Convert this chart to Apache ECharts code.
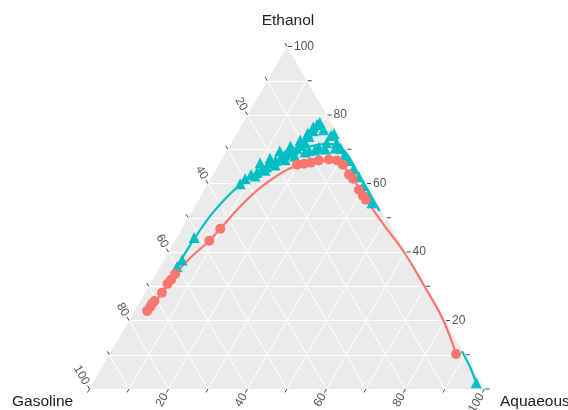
<!DOCTYPE html>
<html>
<head>
<meta charset="utf-8">
<script src="https://cdn.jsdelivr.net/npm/echarts@6/dist/echarts.min.js"></script>
<style>
  html, body { margin: 0; padding: 0; background: #fff; }
  #main { width: 568px; height: 410px; }
</style>
</head>
<body>
<div id="main"></div>
<script>
// compositions as [Gasoline, Ethanol, Aqueous] in %
var redPoints = [
  [74.0, 22.8, 3.2], [72.6, 24.0, 3.4], [71.7, 24.9, 3.4], [70.7, 25.7, 3.6],
  [67.6, 28.1, 4.3], [64.9, 30.7, 4.4], [63.4, 31.9, 4.7], [61.5, 33.6, 4.9],
  [48.0, 43.3, 8.7], [43.5, 46.8, 9.7],
  [14.7, 65.5, 19.8], [12.8, 65.8, 21.4], [10.9, 66.1, 23.0], [8.6, 66.7, 24.7],
  [5.9, 67.0, 27.1], [4.0, 66.7, 29.3], [3.1, 65.5, 31.4], [3.0, 62.6, 34.4],
  [2.6, 61.4, 36.0], [2.7, 58.2, 39.1], [2.6, 56.4, 41.0], [2.4, 55.3, 42.3],
  [2.1, 10.2, 87.7]
];
var redCurve = [
  [74.0, 22.8, 3.2], [67.6, 28.1, 4.3], [61.5, 33.6, 4.9], [54.9, 38.6, 6.5],
  [48.0, 43.3, 8.7], [43.5, 46.8, 9.7], [35.7, 52.9, 11.4], [28.7, 57.9, 13.4],
  [22.4, 61.7, 15.9], [17.3, 64.3, 18.4], [12.8, 65.8, 21.4], [7.4, 66.7, 25.9],
  [4.0, 65.8, 30.2], [2.7, 63.2, 34.1], [2.4, 57.3, 40.3], [1.6, 48.5, 49.9],
  [0.4, 40.0, 59.6], [0.2, 30.0, 69.8], [0.4, 20.0, 79.6], [2.1, 10.2, 87.7]
];
var tealPoints = [
  [60.0, 35.7, 4.3], [57.7, 37.7, 4.6], [51.4, 44.2, 4.4],
  [31.9, 59.9, 8.2], [29.9, 61.4, 8.7], [27.8, 62.6, 9.6], [26.0, 63.2, 10.8],
  [24.2, 64.3, 11.5], [22.7, 64.9, 12.4], [21.0, 66.1, 12.9], [19.5, 66.7, 13.8],
  [17.8, 67.5, 14.7], [16.3, 68.4, 15.3], [15.0, 69.0, 16.0], [13.7, 69.6, 16.7],
  [12.4, 70.2, 17.4], [11.0, 71.1, 17.9], [9.4, 72.2, 18.4], [7.6, 73.7, 18.7],
  [5.7, 75.4, 18.9], [3.8, 77.2, 19.0], [2.8, 77.8, 19.4], [2.9, 75.7, 21.4],
  [4.0, 71.9, 24.1], [6.7, 70.5, 22.8], [9.6, 69.6, 20.8], [1.9, 74.0, 24.1],
  [0.8, 74.6, 24.6], [1.5, 71.9, 26.6], [1.3, 70.2, 28.5], [1.2, 68.4, 30.4],
  [1.0, 66.7, 32.3], [1.0, 64.3, 34.7], [0.8, 62.0, 37.2], [0.9, 59.4, 39.7],
  [1.0, 56.7, 42.3], [1.3, 54.4, 44.3], [1.2, 1.8, 97.0],
  [27.0, 62.2, 10.8], [23.6, 63.9, 12.5], [20.3, 65.4, 14.3], [17.0, 66.9, 16.1],
  [14.0, 68.0, 18.0], [10.8, 69.2, 20.0], [8.0, 69.8, 22.2], [5.3, 70.1, 24.6],
  [2.6, 70.4, 27.0], [23.8, 66.0, 10.2], [20.6, 67.4, 12.0], [17.1, 69.5, 13.4],
  [13.7, 70.9, 15.4], [10.3, 72.7, 17.0], [7.4, 74.7, 17.9], [5.1, 76.5, 18.4]
];
// teal fit: upper part, then (after the hidden stretch on the edge) the foot
var tealCurve = [
  [60.0, 35.7, 4.3], [51.5, 43.9, 4.6], [42.4, 52.0, 5.6], [32.4, 59.4, 8.2],
  [23.6, 64.3, 12.1], [15.3, 68.4, 16.3], [9.0, 70.8, 20.2], [3.6, 71.6, 24.8],
  [0.8, 69.6, 29.6], [0.6, 62.6, 36.8], [0.6, 52.0, 47.4]
];
var tealFoot = [
  [0.2, 11.0, 88.8], [0.5, 6.0, 93.5], [1.2, 1.8, 97.0]
];
var gridValues = [10, 20, 30, 40, 50, 60, 70, 80, 90];
var tickValues = [0, 10, 20, 30, 40, 50, 60, 70, 80, 90, 100];
var labelValues = [20, 40, 60, 80, 100];

var H = Math.sqrt(3) / 2;
function toXY(p) {
  return [p[2] + p[1] / 2, p[1] * H];
}

var gridLines = [];
gridValues.forEach(function (v) {
  // constant ethanol, constant aqueous, constant gasoline
  gridLines.push({ coords: [toXY([100 - v, v, 0]), toXY([0, v, 100 - v])] });
  gridLines.push({ coords: [toXY([100 - v, 0, v]), toXY([0, 100 - v, v])] });
  gridLines.push({ coords: [toXY([v, 0, 100 - v]), toXY([v, 100 - v, 0])] });
});

var labelFont = '12px "Liberation Sans", Arial, sans-serif';
var labelColor = '#555555';
var tickLen = 4;

function renderTicks(params, api) {
  var v = api.value(0);
  var show = labelValues.indexOf(v) >= 0;
  var kids = [];
  // ethanol on right edge: horizontal ticks
  var pr = api.coord(toXY([0, v, 100 - v]));
  kids.push({ type: 'line', shape: { x1: pr[0] + 1, y1: pr[1], x2: pr[0] + 1 + tickLen, y2: pr[1] },
    style: { stroke: '#444', lineWidth: 1 } });
  if (show) kids.push({ type: 'text', x: pr[0] + tickLen + 3, y: pr[1],
    style: { text: String(v), font: labelFont, fill: labelColor, align: 'left', verticalAlign: 'middle' } });
  // gasoline on left edge
  var pl = api.coord(toXY([v, 100 - v, 0]));
  var dl = [-0.5 * tickLen, -H * tickLen];
  kids.push({ type: 'line', shape: { x1: pl[0], y1: pl[1], x2: pl[0] + dl[0], y2: pl[1] + dl[1] },
    style: { stroke: '#444', lineWidth: 1 } });
  if (show) kids.push({ type: 'text', x: pl[0] + dl[0] * 1.5, y: pl[1] + dl[1] * 1.5, rotation: -Math.PI / 3,
    style: { text: String(v), font: labelFont, fill: labelColor, align: 'right', verticalAlign: 'middle' } });
  // aqueous on bottom edge
  var pb = api.coord(toXY([100 - v, 0, v]));
  var db = [-0.5 * tickLen, H * tickLen];
  kids.push({ type: 'line', shape: { x1: pb[0], y1: pb[1], x2: pb[0] + db[0], y2: pb[1] + db[1] },
    style: { stroke: '#444', lineWidth: 1 } });
  if (show) kids.push({ type: 'text', x: pb[0] + db[0] * 1.5, y: pb[1] + db[1] * 1.5, rotation: Math.PI / 3,
    style: { text: String(v), font: labelFont, fill: labelColor, align: 'right', verticalAlign: 'middle' } });
  return { type: 'group', children: kids };
}

var chart = echarts.init(document.getElementById('main'));
var titleFont = '15.5px "Liberation Sans", Arial, sans-serif';
var option = {
  animation: false,
  grid: { left: 89.5, top: 46.5, width: 395, height: 342.5 },
  xAxis: { type: 'value', min: 0, max: 100, show: false },
  yAxis: { type: 'value', min: 0, max: 100 * H, show: false },
  graphic: [
    { type: 'text', x: 288, y: 21, style: { text: 'Ethanol', font: titleFont, fill: '#222', align: 'center', verticalAlign: 'middle' } },
    { type: 'text', x: 12, y: 402, style: { text: 'Gasoline', font: titleFont, fill: '#222', align: 'left', verticalAlign: 'middle' } },
    { type: 'text', x: 500, y: 402, style: { text: 'Aquaeous', font: titleFont, fill: '#222', align: 'left', verticalAlign: 'middle' } }
  ],
  series: [
    {
      type: 'custom',
      silent: true,
      z: 1,
      data: [[0, 0]],
      renderItem: function (params, api) {
        var pts = [toXY([100, 0, 0]), toXY([0, 0, 100]), toXY([0, 100, 0])].map(function (p) { return api.coord(p); });
        return { type: 'polygon', shape: { points: pts }, style: { fill: '#ebebeb' } };
      }
    },
    {
      type: 'lines',
      coordinateSystem: 'cartesian2d',
      silent: true,
      z: 2,
      data: gridLines,
      lineStyle: { color: '#ffffff', width: 1, opacity: 1 }
    },
    {
      type: 'custom',
      silent: true,
      z: 3,
      data: tickValues.map(function (v) { return [v, 0]; }),
      renderItem: renderTicks
    },
    {
      type: 'line', z: 4, smooth: 0.4, showSymbol: false, silent: true,
      data: tealCurve.map(toXY),
      lineStyle: { color: '#00BFC4', width: 2.2 }
    },
    {
      type: 'line', z: 4, smooth: 0.3, showSymbol: false, silent: true,
      data: tealFoot.map(toXY),
      lineStyle: { color: '#00BFC4', width: 2.2 }
    },
    {
      type: 'line', z: 5, smooth: 0.4, showSymbol: false, silent: true,
      data: redCurve.map(toXY),
      lineStyle: { color: '#F8766D', width: 2.2 }
    },
    {
      type: 'scatter', z: 6, symbol: 'triangle', symbolSize: 11,
      data: tealPoints.map(toXY),
      itemStyle: { color: '#00BFC4', opacity: 1 }
    },
    {
      type: 'scatter', z: 7, symbol: 'circle', symbolSize: 10,
      data: redPoints.map(toXY),
      itemStyle: { color: '#F8766D', opacity: 1 }
    }
  ]
};
chart.setOption(option);
</script>
</body>
</html>
